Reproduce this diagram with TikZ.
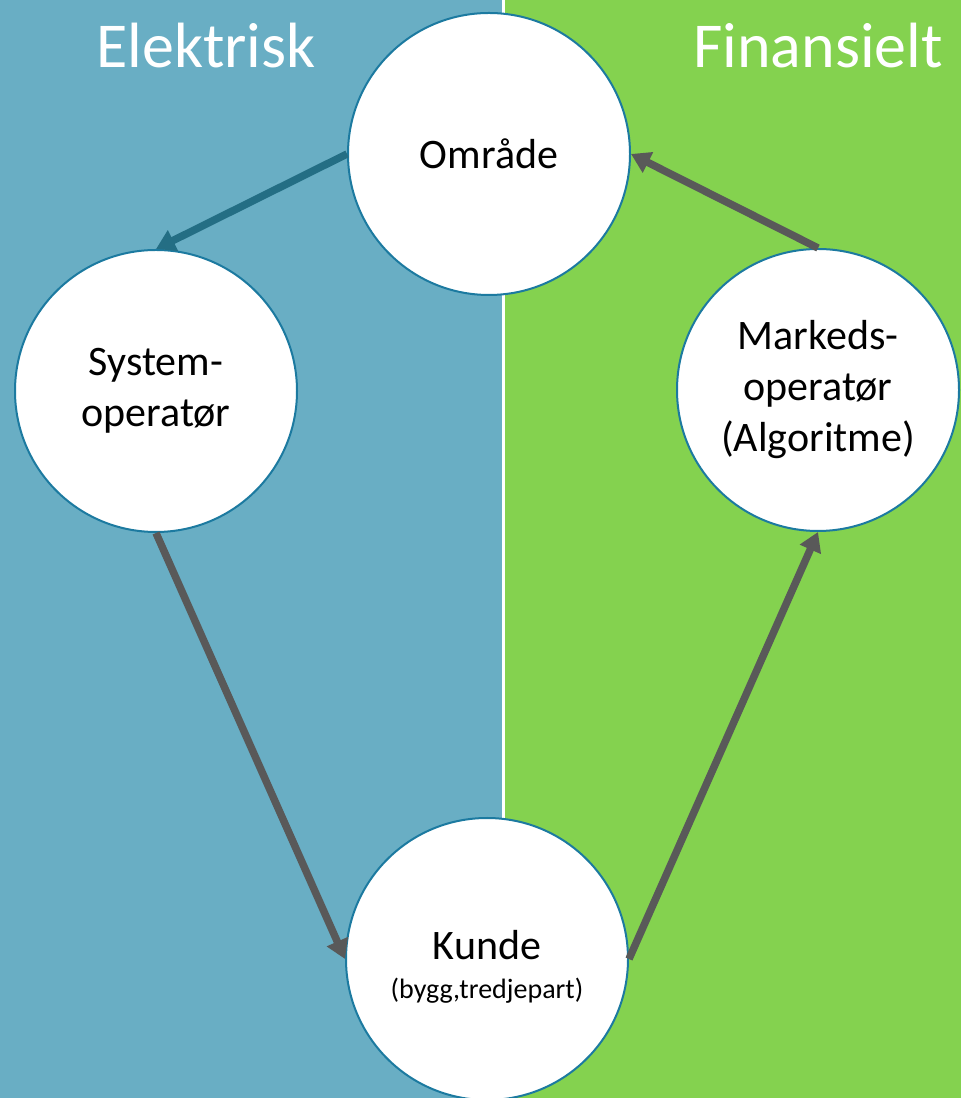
\documentclass[tikz,border=0pt]{standalone}
\usepackage{fontspec}
\setmainfont{Carlito}
\usetikzlibrary{positioning, arrows.meta}
\definecolor{elblue}{HTML}{69AEC4}
\definecolor{figreen}{HTML}{84D24F}
\definecolor{ringblue}{HTML}{1C7AA0}
\definecolor{flowteal}{HTML}{246E84}
\definecolor{flowgray}{HTML}{595959}

\begin{document}
\begin{tikzpicture}[x=1pt, y=1pt,
    actor/.style={circle, draw=ringblue, line width=2pt, fill=white, minimum size=282pt,
        inner sep=0pt, align=center, font=\fontsize{42}{51}\selectfont},
    flow/.style={-{Triangle[length=19pt, width=22pt]}, line width=7.5pt, draw=flowgray},
    side/.style={text=white, font=\fontsize{64}{70}\selectfont, anchor=base}]
    \useasboundingbox (0,0) rectangle (961,1098);
    \fill[elblue] (0,0) rectangle (503,1098);
    \fill[figreen] (503,0) rectangle (961,1098);
    \draw[white, line width=3pt] (503,0) -- (503,1098);
    \node[side] (elektrisk) at (206,1030) {Elektrisk};
    \node[side] (finansielt) at (818,1030) {Finansielt};
    \node[actor] (omrade) at (489,944) {Område};
    \node[actor] (system) at (156,707) {System-\\operatør};
    \node[actor] (markeds) at (818,708) {Markeds-\\operatør\\(Algoritme)};
    \node[actor] (kunde) at (487,139) {\rule{0pt}{44pt}Kunde\\[-12pt]{\fontsize{28}{38}\selectfont(bygg,tredjepart)}};
    \draw[flow, draw=flowteal] (omrade.west) -- (system.north);
    \draw[flow] (system.south) -- (kunde.west);
    \draw[flow] (kunde.east) -- (markeds.south);
    \draw[flow] (markeds.north) -- (omrade.east);
\end{tikzpicture}
\end{document}
